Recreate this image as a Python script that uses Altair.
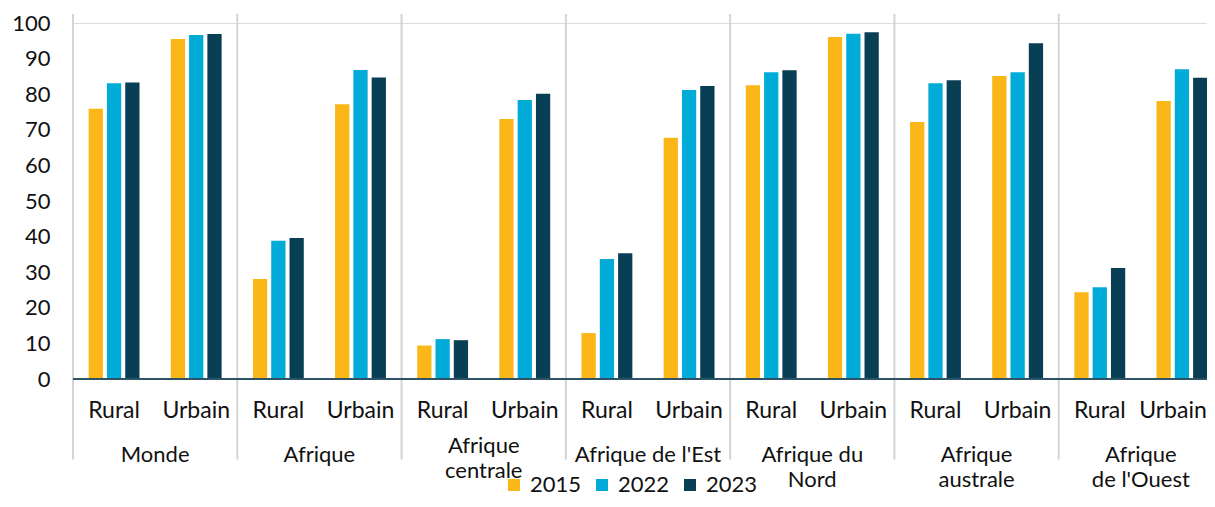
import altair as alt
import pandas as pd

# ---- data ----
regions = ["Monde", "Afrique", "Afrique\ncentrale", "Afrique de l'Est",
           "Afrique du\nNord", "Afrique\naustrale", "Afrique\nde l'Ouest"]
zones = ["Rural", "Urbain"]
years = ["2015", "2022", "2023"]
# order: for each region -> Rural, Urbain
v2015 = [75.9, 95.5, 28.1, 77.2, 9.4, 73.0, 12.9, 67.8, 82.5, 96.1, 72.2, 85.1, 24.4, 78.1]
v2022 = [83.1, 96.6, 38.8, 86.8, 11.2, 78.4, 33.7, 81.2, 86.2, 97.0, 83.1, 86.2, 25.8, 87.0]
v2023 = [83.3, 96.9, 39.6, 84.7, 10.9, 80.1, 35.3, 82.3, 86.7, 97.4, 83.9, 94.3, 31.2, 84.6]
y_ticks = [0, 10, 20, 30, 40, 50, 60, 70, 80, 90, 100]
colors = ["#FBB617", "#00ABD8", "#083F55"]
raised_labels = ["Afrique\ncentrale"]

keys = [f"{r}|{z}" for r in regions for z in zones]
series = {"2015": v2015, "2022": v2022, "2023": v2023}
rows = []
for y in years:
    for k, v in zip(keys, series[y]):
        rows.append({"key": k, "year": y, "value": v})
bars_df = pd.DataFrame(rows)
zone_df = pd.DataFrame({"key": keys, "zone": [k.split("|")[1] for k in keys]})
zone_main = zone_df.iloc[:-1]
zone_last = zone_df.iloc[-1:]
reg_df = pd.DataFrame({"key": [f"{r}|Rural" for r in regions], "region": regions})
reg_top = reg_df[~reg_df.region.isin(raised_labels)]
reg_raised = reg_df[reg_df.region.isin(raised_labels)]
base_df = pd.DataFrame({"v": [0]})

W = 1134          # visible plot width (svg is 1199 px wide)
RANGE = 1150      # full width of the 14 bands (last band runs past the edge)
H = 356
x_scale = alt.Scale(domain=keys, range=[0, RANGE], paddingInner=0, paddingOuter=0)
y_scale = alt.Scale(domain=[0, 100], nice=False)
y_axis = alt.Axis(values=y_ticks, labelFontSize=22, labelFont="Lato", labelColor="#111111",
                  domain=False, ticks=False, grid=False, title=None, labelPadding=23)
TXT = "#111111"

bars = alt.Chart(bars_df).mark_bar().encode(
    x=alt.X("key:N", scale=x_scale, sort=keys, axis=None),
    xOffset=alt.XOffset("year:N", sort=years,
                        scale=alt.Scale(paddingInner=0.22, paddingOuter=0.855)),
    y=alt.Y("value:Q", scale=y_scale, axis=y_axis),
    color=alt.Color("year:N", sort=years, scale=alt.Scale(domain=years, range=colors),
                    legend=alt.Legend(title=None, orient="none", direction="horizontal",
                                      legendX=430, legendY=451, symbolType="square",
                                      symbolSize=144, symbolStrokeWidth=0,
                                      labelFontSize=22, labelFont="Lato", labelColor=TXT,
                                      labelOffset=5, columnPadding=9, padding=0)),
)

seps = alt.Chart(reg_df).mark_rule(color="#D4D4D4", strokeWidth=2).encode(
    x=alt.X("key:N", scale=x_scale, sort=keys, axis=None, bandPosition=0),
    y=alt.value(-9), y2=alt.value(436.5),
)

baseline = alt.Chart(base_df).mark_rule(color="#2E5367", strokeWidth=2).encode(
    y=alt.Y("v:Q", scale=y_scale, axis=y_axis),
    x=alt.value(0), x2=alt.value(RANGE),
)

zone_txt = alt.Chart(zone_main).mark_text(fontSize=23, font="Lato", color=TXT,
                                          baseline="alphabetic", align="center").encode(
    x=alt.X("key:N", scale=x_scale, sort=keys, axis=None),
    y=alt.value(394.7), text="zone:N",
)
zone_txt_last = alt.Chart(zone_last).mark_text(fontSize=23, font="Lato", color=TXT,
                                               baseline="alphabetic", align="center",
                                               dx=-9).encode(
    x=alt.X("key:N", scale=x_scale, sort=keys, axis=None),
    y=alt.value(394.7), text="zone:N",
)

reg1 = alt.Chart(reg_top).mark_text(fontSize=22, font="Lato", color=TXT,
                                    baseline="alphabetic", align="center",
                                    lineBreak="\n", lineHeight=25).encode(
    x=alt.X("key:N", scale=x_scale, sort=keys, axis=None, bandPosition=1),
    y=alt.value(438.5), text="region:N",
)
reg2 = alt.Chart(reg_raised).mark_text(fontSize=22, font="Lato", color=TXT,
                                       baseline="alphabetic", align="center",
                                       lineBreak="\n", lineHeight=25).encode(
    x=alt.X("key:N", scale=x_scale, sort=keys, axis=None, bandPosition=1),
    y=alt.value(430.3), text="region:N",
)

chart = alt.layer(seps, bars, baseline, zone_txt, zone_txt_last, reg1, reg2).properties(
    width=W, height=H,
    autosize=alt.AutoSizeParams(type="none"),
    padding={"left": 65, "top": 15, "right": 0, "bottom": 120},
).configure_view(stroke=None).configure(font="Lato")

chart.save("out.html", embed_options={"renderer": "svg", "actions": False})
